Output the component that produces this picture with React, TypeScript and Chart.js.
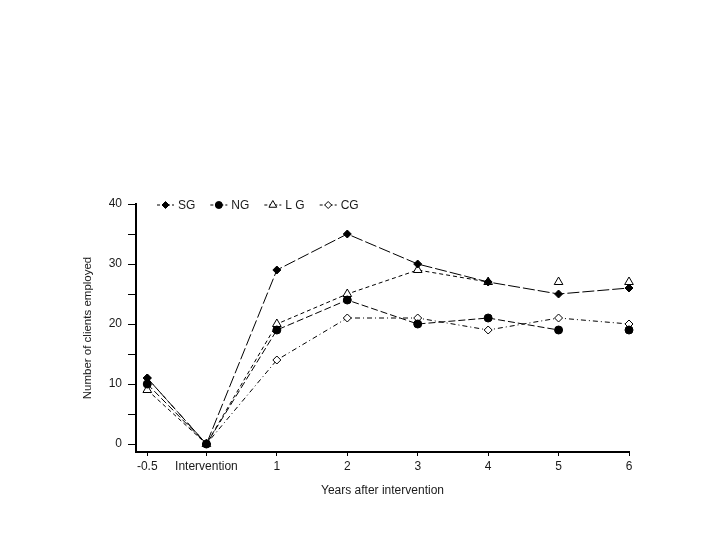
import React, { useEffect, useRef } from "react";
import { Chart, registerables } from "chart.js";
import { drawPoint } from "chart.js/helpers";

Chart.register(...registerables);

// ---- data ----
const xLabels = ["-0.5", "Intervention", "1", "2", "3", "4", "5", "6"];
const xPositions = [-0.84, 0, 1, 2, 3, 4, 5, 6];
const sgValues = [11, 0, 29, 35, 30, 27, 25, 26];
const ngValues = [10, 0, 19, 24, 20, 21, 19, 19];
const lgValues = [9, 0, 20, 25, 29, 27, 27, 27];
const cgValues = [11, 0, 14, 21, 21, 19, 21, 20];
const yTicks = [0, 5, 10, 15, 20, 25, 30, 35, 40];
const yLabelled = [0, 10, 20, 30, 40];
// links (by starting point index) that are not drawn in the original
const ngHiddenLinks = [6];
const lgHiddenLinks = [5, 6];

const FONT = '"Liberation Sans", Arial, Helvetica, sans-serif';
const INK = "#1a1a1a";

const PAD = { left: 77, top: 204, right: 91, bottom: 38 };
const CHART_LEFT = 136;
const X_AXIS_Y = 452;

function makeSeries(
  label: string,
  values: number[],
  pointStyle: string,
  fill: string,
  radius: number,
  dash: number[],
  hidden: number[]
) {
  return {
    label,
    data: values.map((v, i) => ({ x: xPositions[i], y: v })),
    borderColor: "#000",
    borderWidth: 1,
    borderDash: dash,
    pointStyle,
    pointRadius: radius,
    pointBackgroundColor: fill,
    pointBorderColor: "#000",
    pointBorderWidth: 1,
    fill: false,
    tension: 0,
    clip: false,
    segment: {
      borderColor: (c: any) => (hidden.includes(c.p0DataIndex) ? "rgba(0,0,0,0)" : "#000"),
    },
  };
}

const legendPlugin = {
  id: "lineLegend",
  afterDraw(chart: any) {
    const { ctx, chartArea } = chart;
    const y = chartArea.top + 1;
    let x = chartArea.left + 21;
    ctx.save();
    ctx.font = `12px ${FONT}`;
    ctx.textBaseline = "middle";
    chart.data.datasets.forEach((ds: any) => {
      const lineW = 17;
      ctx.strokeStyle = "#000";
      ctx.lineWidth = 1;
      ctx.setLineDash([3, 2]);
      ctx.beginPath();
      ctx.moveTo(x, y);
      ctx.lineTo(x + lineW, y);
      ctx.stroke();
      ctx.setLineDash([]);
      ctx.fillStyle = ds.pointBackgroundColor;
      ctx.strokeStyle = "#000";
      drawPoint(
        ctx,
        { pointStyle: ds.pointStyle, radius: ds.pointRadius - 0.5, rotation: 0, borderWidth: 1 },
        x + lineW / 2,
        y
      );
      ctx.fillStyle = INK;
      ctx.fillText(ds.label, x + lineW + 4, y + 1);
      x += lineW + 4 + ctx.measureText(ds.label).width + 15;
    });
    ctx.restore();
  },
};

export default function App() {
  const ref = useRef<HTMLCanvasElement | null>(null);

  useEffect(() => {
    document.body.style.margin = "0";
    if (!ref.current) return;
    const chart = new Chart(ref.current, {
      type: "line",
      data: {
        datasets: [
          makeSeries("SG", sgValues, "rectRot", "#000", 4, [12, 3], []),
          makeSeries("NG", ngValues, "circle", "#000", 4, [7, 3], ngHiddenLinks),
          makeSeries("L G", lgValues, "triangle", "#fff", 5, [4, 3], lgHiddenLinks),
          makeSeries("CG", cgValues, "rectRot", "#fff", 4, [5, 3, 1, 3], []),
        ] as any,
      },
      options: {
        animation: false,
        responsive: false,
        devicePixelRatio: 1,
        layout: { padding: PAD },
        plugins: { legend: { display: false }, tooltip: { enabled: false } },
        scales: {
          x: {
            type: "linear",
            min: -1,
            max: 6,
            afterBuildTicks: (s: any) => {
              s.ticks = xPositions.map((v) => ({ value: v }));
            },
            afterFit: (s: any) => {
              s.height = 540 - X_AXIS_Y - PAD.bottom;
            },
            ticks: {
              callback: (_v: any, i: number) => xLabels[i],
              color: INK,
              font: { size: 12, family: FONT },
              padding: 3,
              autoSkip: false,
              maxRotation: 0,
            },
            grid: { drawOnChartArea: false, drawTicks: true, tickLength: 4, color: "#000" },
            border: { display: true, color: "#000", width: 2 },
            title: {
              display: true,
              text: "Years after intervention",
              color: INK,
              font: { size: 12, family: FONT },
              padding: { top: 4, bottom: 4 },
            },
          },
          y: {
            type: "linear",
            min: -1.33,
            max: 40,
            afterBuildTicks: (s: any) => {
              s.ticks = yTicks.map((v) => ({ value: v }));
            },
            afterFit: (s: any) => {
              s.width = CHART_LEFT - PAD.left;
            },
            ticks: {
              callback: (v: any) => (yLabelled.includes(v) ? String(v) : ""),
              color: INK,
              font: { size: 12, family: FONT },
              padding: 6,
            },
            grid: { drawOnChartArea: false, drawTicks: true, tickLength: 8, color: "#000" },
            border: { display: true, color: "#000", width: 2 },
            title: {
              display: true,
              text: "Number of clients employed",
              color: INK,
              font: { size: 11.5, family: FONT },
              padding: { top: 4, bottom: 4 },
            },
          },
        },
      } as any,
      plugins: [legendPlugin],
    });
    return () => chart.destroy();
  }, []);

  return (
    <div style={{ width: 720, height: 540, background: "#fff" }}>
      <canvas ref={ref} width={720} height={540} style={{ display: "block" }} />
    </div>
  );
}
